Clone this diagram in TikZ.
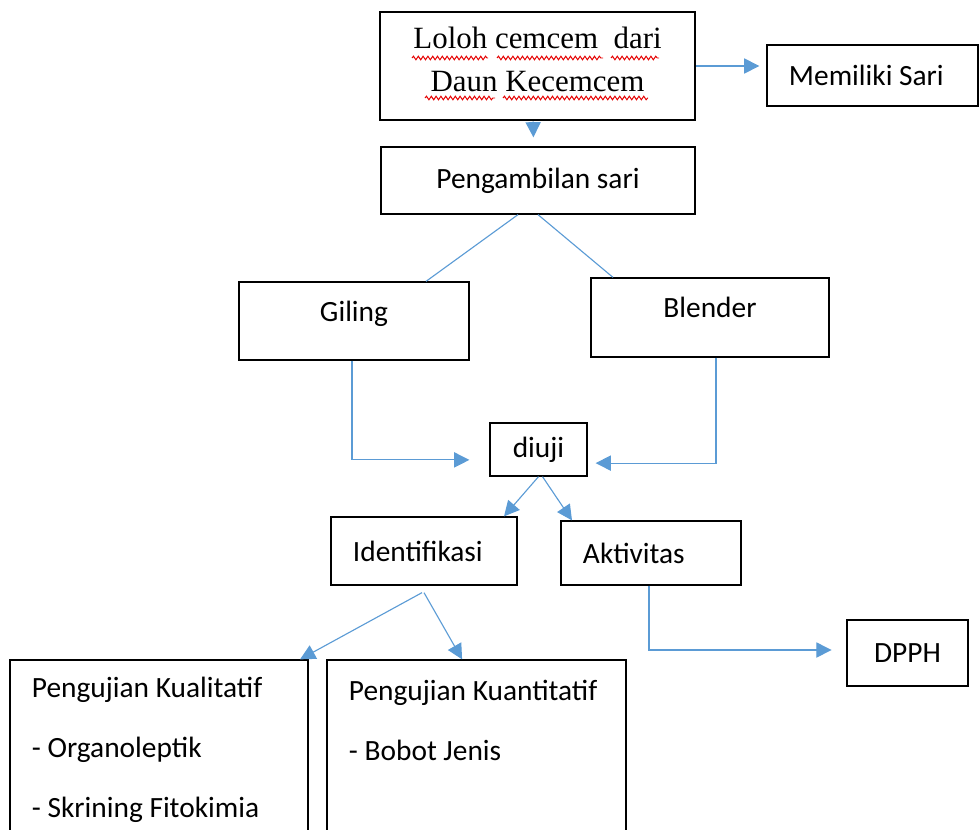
\documentclass[tikz,border=0pt]{standalone}
\usepackage{fontspec}
\setmainfont{Carlito}
\newfontfamily\serifface{Liberation Serif}
\usetikzlibrary{shapes,arrows.meta,decorations.pathmorphing,positioning}
\definecolor{linkblue}{HTML}{5B9BD5}
\tikzset{
  box/.style={draw=black, line width=0.9pt, inner sep=0pt, font=\fontsize{20.9}{25}\selectfont},
  heavybox/.style={box, line width=2pt},
  leftbox/.style={box, inner xsep=0.55cm, align=flush left},
  midtext/.style={text height=0.3cm, text depth=0.3cm},
  link/.style={draw=linkblue, line width=0.8pt},
  arrow/.style={link, -{Triangle[length=0.38cm,width=0.38cm]}},
  spell/.style={draw=red!90!black, line width=0.7pt, decorate, decoration={snake, segment length=0.12cm, amplitude=0.045cm}}
}

\begin{document}
\begin{tikzpicture}[x=0.025cm, y=-0.025cm]
\useasboundingbox (0,0) rectangle (979,829);
\clip (0,0) rectangle (979,829);

% boxes
\node[heavybox, minimum width=7.875cm, minimum height=2.7cm, align=center,
      font=\serifface\fontsize{22}{30.5}\selectfont] (loloh) at (537.5,66)
  {Loloh cemcem\ \ dari\\Daun Kecemcem\rule[-9pt]{0pt}{0pt}};
\node[leftbox, text width=4.175cm, minimum height=1.525cm] (mem) at (872.5,75.5) {Memiliki Sari};
\node[box, minimum width=7.85cm, minimum height=1.675cm] (peng) at (538,180.5) {Pengambilan sari};
\node[box, midtext, minimum width=5.75cm, minimum height=1.95cm] (giling) at (354,321) {Giling};
\node[box, midtext, minimum width=5.95cm, minimum height=1.975cm] (blender) at (710,317.5) {Blender};
\node[box, minimum width=2.425cm, minimum height=1.325cm] (diuji) at (538.5,449.5) {diuji};
\node[leftbox, text width=3.55cm, minimum height=1.7cm] (ident) at (424,551) {Identifikasi};
\node[leftbox, text width=3.4cm, minimum height=1.6cm] (aktiv) at (651,553) {Aktivitas};
\node[heavybox, minimum width=3.025cm, minimum height=1.65cm, inner xsep=0pt] (dpph) at (907.5,653) {DPPH\hspace{0.2cm}};
\node[leftbox, text width=6.35cm, minimum height=4.5cm, font=\fontsize{20.9}{42.5}\selectfont] (kual) at (159,750)
  {Pengujian Kualitatif\\- Organoleptik\\- Skrining Fitokimia};
\node[leftbox, text width=6.375cm, minimum height=4.5cm, font=\fontsize{20.9}{42.5}\selectfont] (kuan) at (476.5,750)
  {Pengujian Kuantitatif\\- Bobot Jenis\\\mbox{}};

% spelling marks
\draw[spell] (412,58) -- (488,58);
\draw[spell] (497,58) -- (603,58);
\draw[spell] (611,58) -- (659,58);
\draw[spell] (425,98) -- (495,98);
\draw[spell] (503,98) -- (648,98);

% connectors
\draw[arrow, shorten >=0.175cm] (loloh.east) -- (loloh.east -| mem.west);
\draw[arrow, shorten >=0.225cm] ([xshift=-0.11cm]loloh.south) -- ([xshift=-0.11cm]peng.north);
\draw[link] ([xshift=-0.5cm]peng.south) -- ([xshift=1.8cm]giling.north);
\draw[link] (peng.south) -- ([xshift=-2.425cm]blender.north);
\draw[arrow, shorten >=0.5cm] ([xshift=-0.05cm]giling.south) |- ([yshift=-0.26cm]diuji.west);
\draw[arrow, shorten >=0.2cm] ([xshift=0.15cm]blender.south) |- ([yshift=-0.34cm]diuji.east);
\draw[arrow] (diuji.south) -- ([xshift=2cm]ident.north);
\draw[arrow] ([xshift=0.1cm]diuji.south) -- ([xshift=-1.975cm]aktiv.north);
\draw[arrow, shorten >=0.35cm] ([xshift=-0.05cm]aktiv.south) |- ([yshift=0.075cm]dpph.west);
\draw[arrow] ([xshift=-0.05cm, yshift=-0.175cm]ident.south) -- ([xshift=3.525cm]kual.north);
\draw[arrow] ([yshift=-0.175cm]ident.south) -- ([xshift=-0.36cm]kuan.north);
\end{tikzpicture}
\end{document}
